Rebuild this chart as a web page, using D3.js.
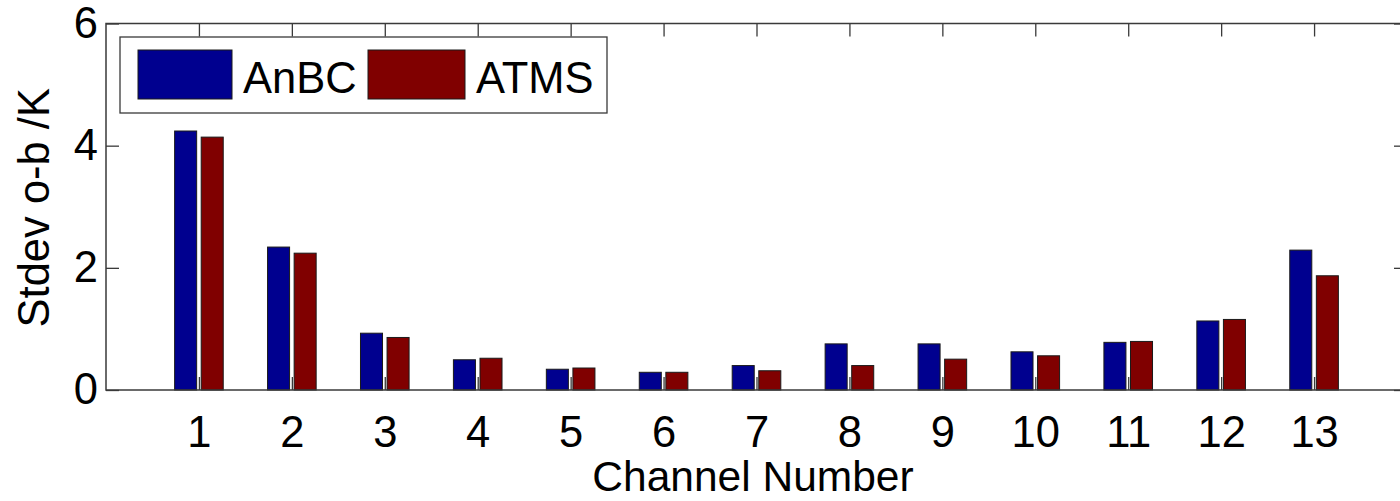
<!DOCTYPE html>
<html>
<head>
<meta charset="utf-8">
<script src="https://cdn.jsdelivr.net/npm/d3@7/dist/d3.min.js"></script>
<style>
  html, body { margin: 0; padding: 0; background: #fff; }
  svg { display: block; }
  text { font-family: "Liberation Sans", Arial, Helvetica, sans-serif; fill: #000; }
</style>
</head>
<body>
<svg id="chart" width="1400" height="501"></svg>
<script>
// Standard deviation of observation minus background, per channel
const channels = [1, 2, 3, 4, 5, 6, 7, 8, 9, 10, 11, 12, 13];
const anbc = [4.24, 2.34, 0.93, 0.495, 0.34, 0.29, 0.40, 0.755, 0.755, 0.625, 0.78, 1.13, 2.29];
const atms = [4.14, 2.24, 0.86, 0.52, 0.36, 0.29, 0.315, 0.40, 0.505, 0.56, 0.795, 1.155, 1.87];
const seriesNames = ["AnBC", "ATMS"];
const seriesColors = ["#00008f", "#800000"];
const yTicks = [0, 2, 4, 6];

const svg = d3.select("#chart");
const FONT = 43.5;
const axisColor = "#3a3a3a";

const plot = { left: 106, right: 1407, top: 23.5, bottom: 390 };

const x = d3.scaleLinear().domain([0, 14]).range([plot.left, plot.right]);
const y = d3.scaleLinear().domain([0, 6]).range([plot.bottom, plot.top]);

const barW = 0.237;   // bar width in channel units
const offset = 0.143; // half distance between paired bar centres

// Bars
const series = [anbc, atms];
series.forEach((vals, si) => {
  const dx = si === 0 ? -offset : offset;
  svg.append("g")
    .selectAll("rect")
    .data(channels.map((c, i) => ({ c, v: vals[i] })))
    .join("rect")
    .attr("x", d => x(d.c + dx - barW / 2))
    .attr("width", d => x(d.c + dx + barW / 2) - x(d.c + dx - barW / 2))
    .attr("y", d => y(d.v))
    .attr("height", d => y(0) - y(d.v))
    .attr("fill", seriesColors[si])
    .attr("stroke", "#1a1a1a")
    .attr("stroke-width", 1);
});

// Axes with inward ticks on all four sides
function styleAxis(g) {
  g.select(".domain").remove();
  g.selectAll(".tick line").attr("stroke", axisColor).attr("stroke-width", 1.3);
  g.selectAll(".tick text").style("font-size", FONT + "px").attr("fill", "#000");
}

svg.append("g")
  .attr("transform", `translate(0,${plot.bottom})`)
  .call(d3.axisBottom(x).tickValues(channels).tickFormat(d3.format("d"))
    .tickSizeInner(-13).tickSizeOuter(0).tickPadding(26))
  .call(styleAxis);

svg.append("g")
  .attr("transform", `translate(0,${plot.top})`)
  .call(d3.axisTop(x).tickValues(channels).tickFormat("")
    .tickSizeInner(-13).tickSizeOuter(0))
  .call(styleAxis);

svg.append("g")
  .attr("transform", `translate(${plot.left},0)`)
  .call(d3.axisLeft(y).tickValues(yTicks).tickFormat(d3.format("d"))
    .tickSizeInner(-13).tickSizeOuter(0).tickPadding(8))
  .call(styleAxis);

svg.append("g")
  .attr("transform", `translate(${plot.right},0)`)
  .call(d3.axisRight(y).tickValues(yTicks).tickFormat("")
    .tickSizeInner(-13).tickSizeOuter(0))
  .call(styleAxis);

// Plot frame
svg.append("rect")
  .attr("x", plot.left).attr("y", plot.top)
  .attr("width", plot.right - plot.left).attr("height", plot.bottom - plot.top)
  .attr("fill", "none").attr("stroke", axisColor).attr("stroke-width", 1.5);

// Axis titles
svg.append("text")
  .attr("x", 753).attr("y", 491)
  .attr("text-anchor", "middle")
  .style("font-size", "42.5px")
  .text("Channel Number");

svg.append("text")
  .attr("transform", `translate(49,${(plot.top + plot.bottom) / 2 + 1}) rotate(-90)`)
  .attr("text-anchor", "middle")
  .style("font-size", FONT + "px")
  .text("Stdev o-b /K");

// Legend
const legend = svg.append("g");
legend.append("rect")
  .attr("x", 120).attr("y", 37).attr("width", 487).attr("height", 76)
  .attr("fill", "#fff").attr("stroke", axisColor).attr("stroke-width", 1.3);

const legendItems = [
  { swX: 138, swW: 94, textX: 243 },
  { swX: 368, swW: 97, textX: 476 }
];
legendItems.forEach((it, i) => {
  legend.append("rect")
    .attr("x", it.swX).attr("y", 50).attr("width", it.swW).attr("height", 49)
    .attr("fill", seriesColors[i]).attr("stroke", "#1a1a1a").attr("stroke-width", 1);
  legend.append("text")
    .attr("x", it.textX).attr("y", 93)
    .style("font-size", FONT + "px")
    .text(seriesNames[i]);
});
</script>
</body>
</html>
